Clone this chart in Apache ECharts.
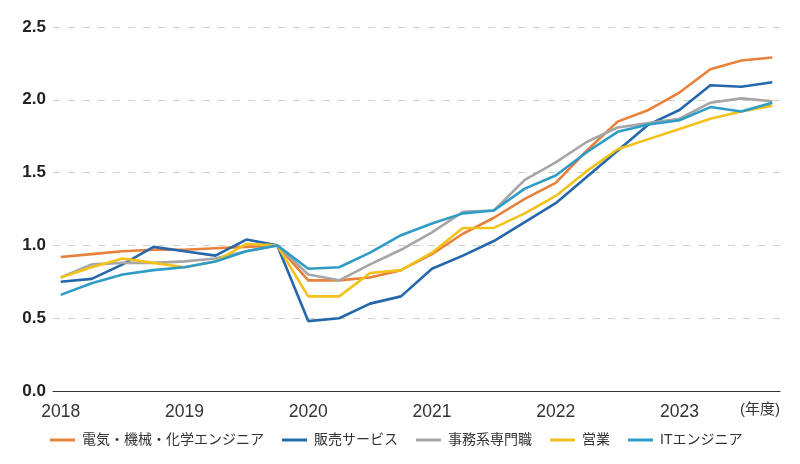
<!DOCTYPE html>
<html>
<head>
<meta charset="utf-8">
<script src="https://cdn.jsdelivr.net/npm/echarts@6/dist/echarts.min.js"></script>
<style>
html,body{margin:0;padding:0;background:#fff;}
#c{width:800px;height:464px;}
</style>
</head>
<body>
<div id="c"></div>
<script>
// Quarterly points, 2018Q1 .. 2023Q4
const quarters = ['2018Q1','2018Q2','2018Q3','2018Q4','2019Q1','2019Q2','2019Q3','2019Q4',
  '2020Q1','2020Q2','2020Q3','2020Q4','2021Q1','2021Q2','2021Q3','2021Q4',
  '2022Q1','2022Q2','2022Q3','2022Q4','2023Q1','2023Q2','2023Q3','2023Q4'];
const yearLabels = ['2018','2019','2020','2021','2022','2023'];
const yTicks = [0, 0.5, 1.0, 1.5, 2.0, 2.5];
const seriesNames = ['電気・機械・化学エンジニア','販売サービス','事務系専門職','営業','ITエンジニア'];

const electrical = [0.92,0.94,0.96,0.97,0.97,0.98,0.99,1.00, 0.76,0.76,0.78,0.83, 0.94,1.08,1.19,1.32, 1.43,1.65,1.85,1.93, 2.05,2.21,2.27,2.29];
const sales_service = [0.75,0.77,0.87,0.99,0.96,0.93,1.04,1.00, 0.48,0.50,0.60,0.65, 0.84,0.93,1.03,1.16, 1.29,1.47,1.65,1.83, 1.93,2.10,2.09,2.12];
const office_spec = [0.78,0.87,0.88,0.88,0.89,0.91,0.96,1.00, 0.80,0.76,0.87,0.97, 1.09,1.23,1.24,1.45, 1.57,1.71,1.81,1.84, 1.87,1.98,2.01,1.99];
const sales = [0.78,0.85,0.91,0.88,0.85,0.89,1.01,1.00, 0.65,0.65,0.81,0.83, 0.95,1.12,1.12,1.22, 1.34,1.51,1.66,1.73, 1.80,1.87,1.92,1.96];
const it_engineer = [0.66,0.74,0.80,0.83,0.85,0.89,0.96,1.00, 0.84,0.85,0.95,1.07, 1.15,1.22,1.24,1.39, 1.48,1.64,1.78,1.83, 1.86,1.95,1.92,1.98];

const allValues = [electrical, sales_service, office_spec, sales, it_engineer];
const colors = ['#E8813A','#2467AB','#A6A6A6','#F3C11B','#2F9BC7'];
const FONT = "'Liberation Sans', 'Noto Sans CJK JP', sans-serif";

const chart = echarts.init(document.getElementById('c'));
const option = {
  animation: false,
  backgroundColor: '#fff',
  grid: { left: 53, right: 20, top: 27, bottom: 73, containLabel: false },
  legend: {
    left: 45, top: 428,
    icon: 'rect', itemWidth: 25, itemHeight: 3, itemGap: 18,
    textStyle: { fontFamily: FONT, fontSize: 14, color: '#333', padding: [0,0,0,2] },
    data: seriesNames
  },
  xAxis: {
    type: 'value', min: -0.25, max: 23.25,
    axisLine: { show: true, lineStyle: { color: '#333', width: 1.2 } },
    axisTick: { show: false },
    splitLine: { show: false },
    axisLabel: {
      customValues: [0,4,8,12,16,20],
      formatter: v => yearLabels[Math.round(v/4)],
      fontFamily: FONT, fontSize: 17.5, color: '#333', margin: 12
    }
  },
  yAxis: {
    type: 'value', min: 0, max: 2.5, interval: 0.5,
    axisLine: { show: false }, axisTick: { show: false },
    splitLine: { show: true, lineStyle: { color: '#cfcfcf', type: [7, 8], width: 1 } },
    axisLabel: {
      formatter: v => v.toFixed(1),
      fontFamily: FONT, fontSize: 17, fontWeight: 'bold', color: '#222', margin: 7
    }
  },
  graphic: [{
    type: 'text', right: 20, top: 402,
    style: { text: '(年度)', font: "15px 'Liberation Sans', 'Noto Sans CJK JP', sans-serif", fill: '#333' }
  }],
  series: seriesNames.map((name, k) => ({
    name, type: 'line', symbol: 'none',
    lineStyle: { width: 2.6, color: colors[k] },
    itemStyle: { color: colors[k] },
    data: allValues[k].map((v, i) => [i, v])
  }))
};
chart.setOption(option);
</script>
</body>
</html>
